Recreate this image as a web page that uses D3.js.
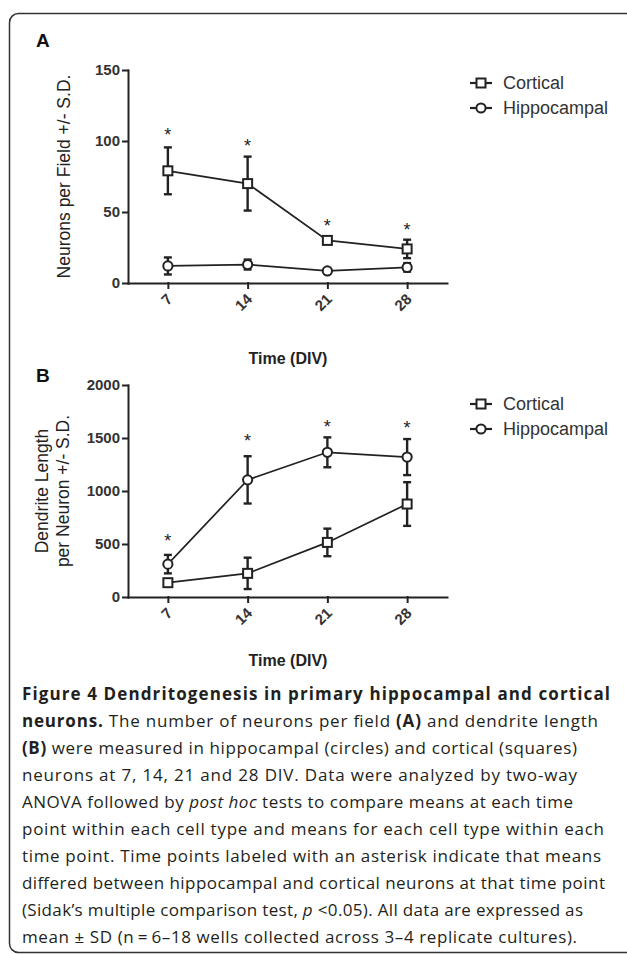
<!DOCTYPE html>
<html>
<head>
<meta charset="utf-8">
<script src="https://cdn.jsdelivr.net/npm/d3@7"></script>
<style>
  body { margin: 0; background: #fff; }
  svg { display: block; }
</style>
</head>
<body>
<div id="fig"></div>
<script>
// Data
const days = ["7", "14", "21", "28"]

// panel A: neurons per field
const corticalA = [79, 70, 30, 24]
const corticalSdA = [16.5, 19, 2.5, 6.5]
const hippoA = [12, 13, 8.5, 11]
const hippoSdA = [6, 3.5, 1.5, 3]
const starsA = [107, 99, 43, 40]   // where the asterisks sit (data units)
const ticksA = [0, 50, 100, 150]

// panel B: dendrite length per neuron
const corticalB = [135, 223, 515, 877]
const corticalSdB = [30, 148, 130, 206]
const hippoB = [310, 1105, 1365, 1320]
const hippoSdB = [87, 223, 141, 170]
const starsB = [569, 1512, 1638, 1632]
const ticksB = [0, 500, 1000, 1500, 2000]

const seriesNames = ["Cortical", "Hippocampal"]

const captionLines = [
  [["Figure 4 Dendritogenesis in primary hippocampal and cortical", "b"]],
  [["neurons.", "b"], [" The number of neurons per field ", ""], ["(A)", "b"], [" and dendrite length", ""]],
  [["(B)", "b"], [" were measured in hippocampal (circles) and cortical (squares)", ""]],
  [["neurons at 7, 14, 21 and 28 DIV. Data were analyzed by two-way", ""]],
  [["ANOVA followed by ", ""], ["post hoc", "i"], [" tests to compare means at each time", ""]],
  [["point within each cell type and means for each cell type within each", ""]],
  [["time point. Time points labeled with an asterisk indicate that means", ""]],
  [["differed between hippocampal and cortical neurons at that time point", ""]],
  [["(Sidak\u2019s multiple comparison test, ", ""], ["p", "i"], [" <0.05). All data are expressed as", ""]],
  [["mean \u00b1 SD (n\u2009=\u20096\u201318 wells collected across 3\u20134 replicate cultures).", ""]]
]
// how far each caption line runs in the figure (px)
const captionWidths = [588, 576, 555, 555, 551, 582, 579, 583, 561, 555]

const W = 627, H = 954
const svg = d3.select("#fig").append("svg")
  .attr("width", W)
  .attr("height", H)

// rounded frame (runs off the right edge like the scan)
svg.append("rect")
  .attr("x", 9.5).attr("y", 13.5)
  .attr("width", 640).attr("height", 939)
  .attr("rx", 9)
  .attr("fill", "none")
  .attr("stroke", "#333")
  .attr("stroke-width", 1.5)

const font = "'Liberation Sans', Arial, Helvetica, sans-serif"
const ink = "#222"

function drawPanel(o) {
  const g = svg.append("g")

  const x = d3.scalePoint().domain(days).range([128, 447]).padding(0.5)
  const y = d3.scaleLinear().domain(o.domain).range([o.bottom, o.top])

  // panel letter
  g.append("text")
    .attr("x", 36).attr("y", o.letterY)
    .attr("font-family", font).attr("font-weight", "bold").attr("font-size", 19)
    .attr("fill", "#111")
    .text(o.letter)

  // y axis
  const ya = g.append("g")
    .attr("transform", "translate(128,0)")
    .call(d3.axisLeft(y).tickValues(o.ticks).tickFormat(d3.format("d"))
      .tickSize(5).tickSizeOuter(0).tickPadding(3))
  ya.selectAll("path, line").attr("stroke", ink).attr("stroke-width", 2).attr("stroke-linecap", "square")
  ya.selectAll("text")
    .attr("font-family", font).attr("font-weight", "bold").attr("font-size", 15)
    .attr("fill", "#333")

  // x axis
  const xa = g.append("g")
    .attr("transform", `translate(0,${o.bottom})`)
    .call(d3.axisBottom(x).tickSize(5).tickSizeOuter(0))
  xa.selectAll("path, line").attr("stroke", ink).attr("stroke-width", 2).attr("stroke-linecap", "square")
  xa.selectAll("text")
    .attr("font-family", font).attr("font-weight", "bold").attr("font-size", 15)
    .attr("fill", "#333")
    .attr("text-anchor", "end")
    .attr("y", 0).attr("dy", 0)
    .attr("transform", "translate(5,17) rotate(-45)")

  // axis titles
  g.append("text")
    .attr("x", 288).attr("y", o.xTitleY)
    .attr("text-anchor", "middle")
    .attr("font-family", font).attr("font-weight", "bold").attr("font-size", 16)
    .attr("fill", "#222")
    .text("Time (DIV)")

  const yt = g.append("text")
    .attr("transform", `translate(0,${(o.top + o.bottom) / 2}) rotate(-90)`)
    .attr("text-anchor", "middle")
    .attr("font-family", font).attr("font-size", 17.5)
    .attr("fill", "#222")
  o.yTitle.forEach((t, i) => {
    yt.append("tspan").attr("x", 0).attr("y", o.yTitleX[i]).text(t)
  })

  const line = d3.line().x((d, i) => x(days[i])).y(d => y(d))

  const series = [
    { vals: o.cortical, sd: o.corticalSd, shape: "square" },
    { vals: o.hippo, sd: o.hippoSd, shape: "circle" }
  ]

  series.forEach(s => {
    g.append("path")
      .attr("d", line(s.vals))
      .attr("fill", "none").attr("stroke", ink).attr("stroke-width", 1.7)
  })

  // error bars
  series.forEach(s => {
    const eb = g.append("g").attr("stroke", ink).attr("stroke-width", 2.4)
    s.vals.forEach((v, i) => {
      const cx = x(days[i])
      eb.append("line").attr("x1", cx).attr("x2", cx).attr("y1", y(v - s.sd[i])).attr("y2", y(v + s.sd[i]))
      eb.append("line").attr("x1", cx - 4).attr("x2", cx + 4).attr("y1", y(v + s.sd[i])).attr("y2", y(v + s.sd[i]))
      eb.append("line").attr("x1", cx - 4).attr("x2", cx + 4).attr("y1", y(v - s.sd[i])).attr("y2", y(v - s.sd[i]))
    })
  })

  // markers
  series.forEach(s => {
    s.vals.forEach((v, i) => marker(g, s.shape, x(days[i]), y(v)))
  })

  // asterisks
  g.selectAll(".star")
    .data(o.stars)
    .join("text")
    .attr("x", (d, i) => x(days[i]))
    .attr("y", d => y(d) + 10)
    .attr("text-anchor", "middle")
    .attr("font-family", font).attr("font-size", 18)
    .attr("fill", "#222")
    .text("*")

  // legend
  seriesNames.forEach((name, i) => {
    const ly = o.legendY + i * 25
    g.append("line").attr("x1", 470).attr("x2", 492).attr("y1", ly).attr("y2", ly)
      .attr("stroke", ink).attr("stroke-width", 2.2)
    marker(g, series[i].shape, 481, ly)
    g.append("text")
      .attr("x", 503).attr("y", ly + 6)
      .attr("font-family", font).attr("font-size", 18)
      .attr("fill", "#333")
      .text(name)
  })
}

function marker(g, shape, cx, cy) {
  if (shape === "square") {
    g.append("rect")
      .attr("x", cx - 4.5).attr("y", cy - 4.5)
      .attr("width", 9).attr("height", 9)
      .attr("fill", "#fff").attr("stroke", ink).attr("stroke-width", 2)
  } else {
    g.append("circle")
      .attr("cx", cx).attr("cy", cy).attr("r", 4.6)
      .attr("fill", "#fff").attr("stroke", ink).attr("stroke-width", 2)
  }
}

drawPanel({
  letter: "A", letterY: 47,
  domain: [0, 150], top: 70, bottom: 283, ticks: ticksA,
  cortical: corticalA, corticalSd: corticalSdA,
  hippo: hippoA, hippoSd: hippoSdA, stars: starsA,
  yTitle: ["Neurons per Field +/- S.D."], yTitleX: [70],
  xTitleY: 364, legendY: 83
})

drawPanel({
  letter: "B", letterY: 382,
  domain: [0, 2000], top: 385, bottom: 597, ticks: ticksB,
  cortical: corticalB, corticalSd: corticalSdB,
  hippo: hippoB, hippoSd: hippoSdB, stars: starsB,
  yTitle: ["Dendrite Length", "per Neuron +/- S.D."], yTitleX: [48, 69],
  xTitleY: 666, legendY: 404
})

// caption, each line stretched to the width it has in the figure
const capFont = "'Open Sans', 'Noto Sans', sans-serif"
const cap = svg.append("g").attr("fill", "#231f20")
  .attr("font-family", capFont)

captionLines.forEach((segs, i) => {
  const t = cap.append("text")
    .attr("x", 22).attr("y", 700 + i * 27)
    .attr("font-size", 17)
    .attr("textLength", captionWidths[i])
    .attr("lengthAdjust", "spacing")
  segs.forEach(([s, st]) => {
    t.append("tspan")
      .attr("font-weight", st === "b" ? "bold" : null)
      .attr("font-style", st === "i" ? "italic" : null)
      .text(s)
  })
})
</script>
</body>
</html>
